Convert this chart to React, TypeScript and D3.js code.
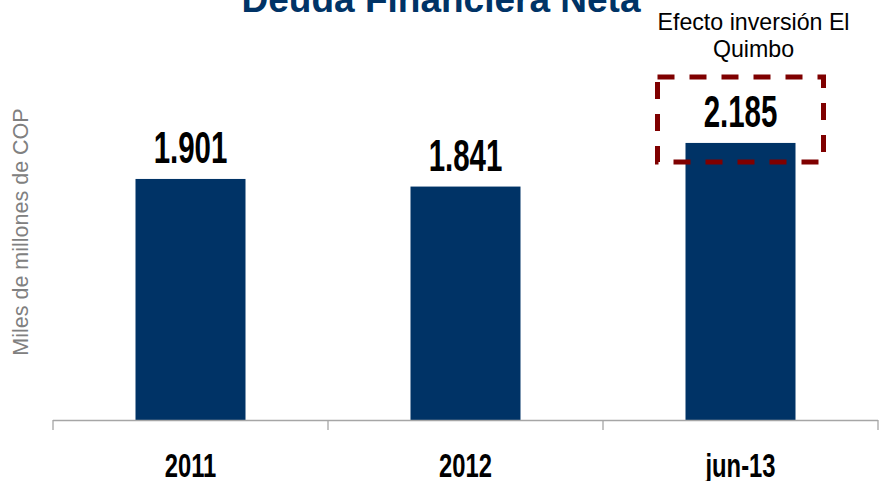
import React from "react";
import * as d3 from "d3";

const categories = ["2011", "2012", "jun-13"];
const values = [1901, 1841, 2185];
const valueLabels = ["1.901", "1.841", "2.185"];
const title = "Deuda Financiera Neta";
const yTitle = "Miles de millones de COP";
const noteLines = ["Efecto inversión El", "Quimbo"];
const highlightIndex = 2;

const W = 883;
const H = 481;

export default function App() {
  const x = d3.scaleBand<string>().domain(categories).range([53, 878]).paddingInner(0.6).paddingOuter(0.3);
  const band = d3.scaleBand<string>().domain(categories).range([53, 878]).padding(0);
  const y = d3.scaleLinear().domain([0, 2500]).range([420, 103]);
  const tickXs = categories.map((c) => band(c) as number).concat([878]);
  const hx = (x(categories[highlightIndex]) as number) + x.bandwidth() / 2;
  const hy = y(values[highlightIndex]);

  return (
    <svg width={W} height={H} style={{ position: "absolute", left: 0, top: 0 }} fontFamily="'Liberation Sans', Arial, sans-serif">
      <text x={441} y={12} textAnchor="middle" fontSize={37} fontWeight="bold" fill="#003366">{title}</text>
      <text transform="translate(28,232) rotate(-90)" textAnchor="middle" fontSize={21.5} fill="#808080">{yTitle}</text>
      {categories.map((c, i) => (
        <rect key={c} x={x(c)} y={y(values[i])} width={x.bandwidth()} height={y(0) - y(values[i])} fill="#003366" />
      ))}
      <line x1={53} x2={878} y1={420.5} y2={420.5} stroke="#a6a6a6" strokeWidth={1.3} />
      {tickXs.map((t, i) => (
        <line key={i} x1={t} x2={t} y1={420} y2={430} stroke="#a6a6a6" strokeWidth={1.3} />
      ))}
      {categories.map((c, i) => (
        <text key={c} transform={`translate(${(x(c) as number) + x.bandwidth() / 2},${y(values[i]) - 16}) scale(0.67,1)`} textAnchor="middle" fontSize={44} fontWeight="bold" fill="#000">{valueLabels[i]}</text>
      ))}
      {categories.map((c) => (
        <text key={c} transform={`translate(${(x(c) as number) + x.bandwidth() / 2},477) scale(0.7,1)`} textAnchor="middle" fontSize={34} fontWeight="bold" fill="#000">{c}</text>
      ))}
      <rect x={hx - 83} y={hy - 66} width={166} height={85} fill="none" stroke="#7f0000" strokeWidth={5} strokeDasharray="17,15" />
      {noteLines.map((l, i) => (
        <text key={i} x={hx + 13} y={30 + i * 27} textAnchor="middle" fontSize={23.2} fill="#000">{l}</text>
      ))}
    </svg>
  );
}
